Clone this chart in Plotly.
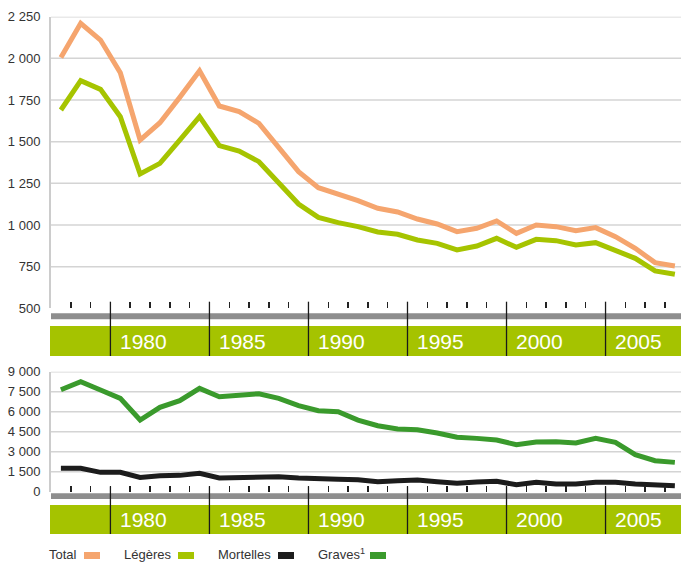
import plotly.graph_objects as go

# ---------------- data ----------------
years = list(range(1977, 2009))
total = [2005, 2210, 2110, 1914, 1510, 1614, 1766, 1925, 1714, 1680,
         1610, 1466, 1320, 1224, 1186, 1146, 1100, 1078, 1036, 1006,
         960, 980, 1024, 950, 1000, 990, 966, 984, 930, 860, 774, 754]
legeres = [1690, 1866, 1814, 1650, 1306, 1370, 1510, 1650, 1476, 1444,
           1380, 1254, 1126, 1046, 1014, 990, 958, 944, 910, 890,
           850, 874, 920, 866, 914, 906, 880, 894, 850, 800, 724, 704]
mortelles = [1750, 1750, 1450, 1450, 1075, 1200, 1225, 1375, 1025, 1090,
             1075, 1125, 1025, 950, 925, 900, 750, 825, 875, 750,
             640, 725, 775, 525, 700, 575, 575, 700, 700, 575, 500, 450]
graves = [7650, 8250, 7625, 7000, 5375, 6325, 6825, 7750, 7125, 7250,
          7350, 7000, 6450, 6075, 6000, 5375, 4950, 4700, 4650, 4400,
          4080, 4000, 3875, 3525, 3725, 3750, 3650, 4000, 3700, 2775, 2325, 2200]

top_ticks = [500, 750, 1000, 1250, 1500, 1750, 2000, 2250]
bottom_ticks = [0, 1500, 3000, 4500, 6000, 7500, 9000]
band_years = [1980, 1985, 1990, 1995, 2000, 2005]
legend_names = ["Total", "Légères", "Mortelles", "Graves<sup>1</sup>"]

# ---------------- style ----------------
ORANGE = "#f5a56e"
LGREEN = "#a6c400"
BLACK = "#1c1c1c"
DGREEN = "#3a9a2c"
BAND_GREEN = "#a5c300"
BAND_GRAY = "#8e8e8e"
GRID = "#d4d4d4"
TXT = "#333333"
FONT = "Liberation Sans, Arial, sans-serif"

W, H = 681, 564
L = 51


def py(p):
    return 1 - p / H


def px(p):
    return (p - L) / (W - L)


fig = go.Figure()
fig.add_trace(go.Scatter(x=years, y=total, xaxis="x", yaxis="y", mode="lines",
                         line=dict(color=ORANGE, width=5), name="Total"))
fig.add_trace(go.Scatter(x=years, y=legeres, xaxis="x", yaxis="y", mode="lines",
                         line=dict(color=LGREEN, width=5), name="Légères"))
fig.add_trace(go.Scatter(x=years, y=graves, xaxis="x2", yaxis="y2", mode="lines",
                         line=dict(color=DGREEN, width=5), name="Graves"))
fig.add_trace(go.Scatter(x=years, y=mortelles, xaxis="x2", yaxis="y2", mode="lines",
                         line=dict(color=BLACK, width=5), name="Mortelles"))

boundaries = [y + 0.5 for y in years[:-1]]
xr = [years[0] - 0.5, years[-1] + 0.31]

common_x = dict(range=xr, tickvals=boundaries, ticks="inside", ticklen=6,
                tickwidth=1.5, tickcolor="#222222", showticklabels=False,
                showgrid=False, zeroline=False, showline=False, domain=[0, 1],
                automargin=False)
common_y = dict(showgrid=False, zeroline=False, showline=True, linecolor="#cccccc",
                linewidth=2, ticks="", tickformat=",d", automargin=False,
                tickfont=dict(family=FONT, size=13, color=TXT), ticklabelstandoff=6)

shapes = []
annotations = []

panels = [
    ("y", top_ticks, (313.3, 319.3), (326, 356), 301.7, "x"),
    ("y2", bottom_ticks, (493.3, 499), (505, 534), 486.3, "x2"),
]

for yref, tks, gray, green, mtop, xref in panels:
    for v in tks[1:]:
        shapes.append(dict(type="line", xref="paper", yref=yref, x0=0, x1=1, y0=v, y1=v,
                           line=dict(color=GRID, width=1.5), layer="below"))
    shapes.append(dict(type="rect", xref="paper", yref="paper", x0=0, x1=1,
                       y0=py(gray[1]), y1=py(gray[0]), fillcolor=BAND_GRAY,
                       line=dict(width=0), layer="above"))
    shapes.append(dict(type="rect", xref="paper", yref="paper", x0=px(50), x1=1,
                       y0=py(green[1]), y1=py(green[0]), fillcolor=BAND_GREEN,
                       line=dict(width=0), layer="above"))
    for by in band_years:
        shapes.append(dict(type="line", xref=xref, yref="paper", x0=by - 0.5, x1=by - 0.5,
                           y0=py(green[1]), y1=py(mtop),
                           line=dict(color="#1a1a1a", width=1.3), layer="above"))
        annotations.append(dict(text=str(by), xref=xref, yref="paper", x=by, xanchor="left",
                                y=py((green[0] + green[1]) / 2), yanchor="middle",
                                showarrow=False, xshift=-2,
                                font=dict(family=FONT, size=21, color="white")))

# legend drawn as text + swatch (text left of swatch)
legend_colors = [ORANGE, LGREEN, BLACK, DGREEN]
legend_text_x = [49, 124, 218, 318]
legend_sw_x = [84, 178, 278, 370]
for name, col, tx, sx in zip(legend_names, legend_colors, legend_text_x, legend_sw_x):
    annotations.append(dict(text=name, xref="paper", yref="paper", x=px(tx), xanchor="left",
                            y=py(554), yanchor="middle", showarrow=False, xshift=-2,
                            font=dict(family=FONT, size=13, color=TXT)))
    shapes.append(dict(type="rect", xref="paper", yref="paper", x0=px(sx), x1=px(sx + 16),
                       y0=py(559), y1=py(552), fillcolor=col, line=dict(width=0)))

fig.update_layout(
    template="none",
    width=W, height=H,
    margin=dict(l=L, r=0, t=0, b=0, pad=0, autoexpand=False),
    paper_bgcolor="white", plot_bgcolor="white",
    showlegend=False,
    separators=", ",
    xaxis=dict(anchor="y", **common_x),
    xaxis2=dict(anchor="y2", **common_x),
    yaxis=dict(domain=[py(308.3), py(16.7)], range=[500, 2250], tickvals=top_ticks,
               anchor="x", **common_y),
    yaxis2=dict(domain=[py(491.7), py(371.7)], range=[0, 9000], tickvals=bottom_ticks,
                anchor="x2", **common_y),
    shapes=shapes,
    annotations=annotations,
)

fig.write_html(
    "out.html",
    config={"displayModeBar": False, "staticPlot": True},
    post_script="document.body.style.margin='0';document.body.style.overflow='hidden';",
)
